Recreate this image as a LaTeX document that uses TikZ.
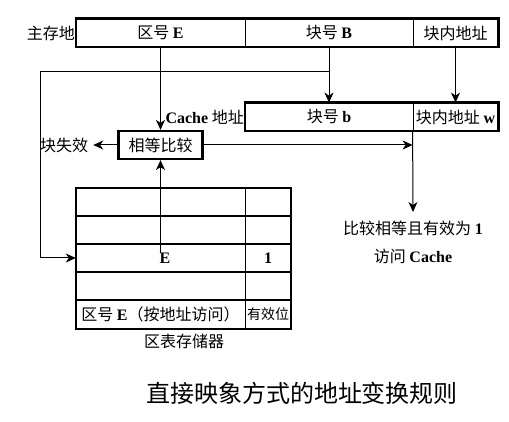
\documentclass[tikz,border=0pt]{standalone}
\usepackage{fontspec}
\setmainfont{Liberation Serif}
\newfontfamily\cjk{Noto Sans CJK SC}
\usetikzlibrary{arrows.meta}
\newcommand\lb[1]{{\rmfamily\bfseries #1}}
\begin{document}
\begin{tikzpicture}[x=1pt,y=-1pt,
  txt/.style={font=\cjk\fontsize{16}{19}\selectfont, inner sep=0pt},
  cell/.style={txt, draw, line width=0.8pt, minimum height=28pt},
  thickline/.style={line width=2.2pt},
  thinline/.style={line width=0.8pt},
  arr/.style={line width=1pt, -{Stealth[length=10pt,width=9pt,inset=3pt]}},
  ln/.style={line width=1pt}]
\useasboundingbox (0,0) rectangle (509,422);
% main memory address
\node[cell, minimum width=169pt] (zE) at (160.5,33) {区号 \lb{E}};
\node[cell, minimum width=168pt] (bB) at (329,33) {块号 \lb{B}};
\node[cell, minimum width=85pt] (bw) at (455.5,33) {块内地址};
\draw[thickline] (zE.north west) rectangle (bw.south east);
\node[txt, anchor=east] (mainlbl) at (75,33) {主存地};
% cache address
\node[cell, minimum width=168pt] (cb) at (329,117) {块号 \lb{b}};
\node[cell, minimum width=85pt] (cw) at (455.5,117) {块内地址 \lb{w}};
\draw[thickline] (cb.north west) rectangle (cw.south east);
\node[txt, anchor=east] (cachelbl) at (244,117) {\lb{Cache} 地址};
% compare
\node[txt, draw, thickline, minimum width=84pt, minimum height=28pt] (cmp) at (160.5,145) {相等比较};
\node[txt, inner xsep=5pt] (miss) at (64,145) {块失效};
% table
\node[txt, minimum width=169pt, minimum height=28pt] (r1) at (160.5,202) {};
\node[txt, minimum width=169pt, minimum height=28pt] (r2) at (160.5,230) {};
\node[txt, minimum width=169pt, minimum height=28pt] (r3) at (160.5,258) {};
\node[txt, minimum width=169pt, minimum height=28pt] (r4) at (160.5,286) {};
\node[txt, minimum width=169pt, minimum height=29pt] (h) at (160.5,314.5) {区号 \lb{E}（按地址访问）};
\node[txt, minimum width=46pt, minimum height=28pt] (v1) at (268,202) {};
\node[txt, minimum width=46pt, minimum height=28pt] (v2) at (268,230) {};
\node[txt, minimum width=46pt, minimum height=28pt] (v3) at (268,258) {\lb{1}};
\node[txt, minimum width=46pt, minimum height=28pt] (v4) at (268,286) {};
\node[txt, font=\cjk\fontsize{14}{16}\selectfont, minimum width=46pt, minimum height=29pt] (hv) at (268,314.5) {有效位};
\node[txt] (eTxt) at (165,258) {\lb{E}};
\draw[thickline] (r1.north west) rectangle (hv.south east);
\foreach \r/\v in {r1/v1,r2/v2,r3/v3,r4/v4}
  \draw[thickline] (\r.south west) -- (\v.south east);
\draw[thinline] (r1.north east) -- (h.south east);
\node[txt] (store) at (184,341) {区表存储器};
% result
\node[txt] (res1) at (413,228) {比较相等且有效为 \lb{1}};
\node[txt] (res2) at (413,256) {访问 \lb{Cache}};
% title
\node[font=\cjk\fontsize{24}{28}\selectfont, inner sep=0pt] (title) at (302,393) {直接映象方式的地址变换规则};
% connectors
\draw[arr] (zE.south) -- (cmp.north);
\draw[arr] (bB.south) -- (cb.north);
\draw[arr] (bw.south) -- (cw.north);
\coordinate (j1) at (329,72);
\coordinate (c1) at (40,72);
\draw[arr] (j1) -- (c1) |- (r3.west);
\draw[arr] (cmp.west) -- (miss.east);
\coordinate (hitpt) at (cw.south west |- cmp.east);
\draw[arr] (cmp.east) -- (hitpt);
\coordinate (resTip) at (413,212);
\draw[arr] (cw.south west) -- (resTip);
\draw[arr] (eTxt.north -| cmp.south) -- (cmp.south);
\end{tikzpicture}
\end{document}
